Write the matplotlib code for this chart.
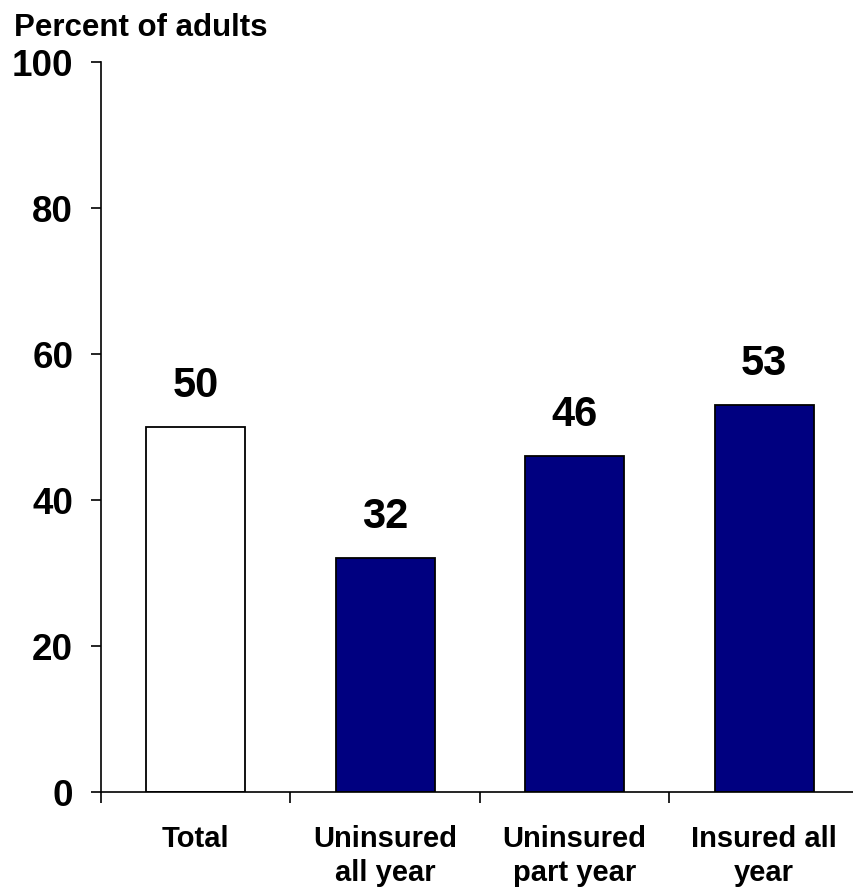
import matplotlib.pyplot as plt
import numpy as np

categories = ['Total', 'Uninsured\nall year', 'Uninsured\npart year', 'Insured all\nyear']
values = [50, 32, 46, 53]
colors = ['white', '#000080', '#000080', '#000080']

plt.rcParams['font.family'] = ['Liberation Sans', 'DejaVu Sans']
plt.rcParams['font.weight'] = 'bold'

W, H = 854, 890
fig = plt.figure(figsize=(W / 100, H / 100), dpi=100)
ax = fig.add_axes([101 / W, 98 / H, 758 / W, 730 / H])

x = np.arange(len(categories))
ax.bar(x, values, width=0.52, color=colors, edgecolor='black', linewidth=1.3)

# value labels above each bar
for xi, v in zip(x, values):
    ax.text(xi, v + 2.9, str(v), ha='center', va='bottom', fontsize=30, fontweight='bold')

ax.set_xlim(-0.5, len(categories) - 0.5)
ax.set_ylim(0, 100)
ax.set_yticks(range(0, 101, 20))
ax.set_yticklabels([str(t) for t in range(0, 101, 20)], fontsize=26.5, fontweight='bold')
ax.tick_params(axis='y', length=7, width=1.2, pad=13)

# category ticks sit on the boundaries, labels in the middle
ax.set_xticks(np.arange(len(categories) + 1) - 0.5)
ax.set_xticklabels([])
ax.tick_params(axis='x', length=8, width=1.2)
ax.set_xticks(x, minor=True)
ax.set_xticklabels(categories, minor=True, fontsize=21, fontweight='bold', linespacing=1.25)
ax.tick_params(axis='x', which='minor', length=0, pad=24)

for side in ['top', 'right']:
    ax.spines[side].set_visible(False)
for side in ['left', 'bottom']:
    ax.spines[side].set_linewidth(1.2)

fig.text(14 / W, 1 - 36 / H, 'Percent of adults', fontsize=22.5, fontweight='bold', ha='left', va='baseline')

fig.savefig('out.png', dpi=100)
